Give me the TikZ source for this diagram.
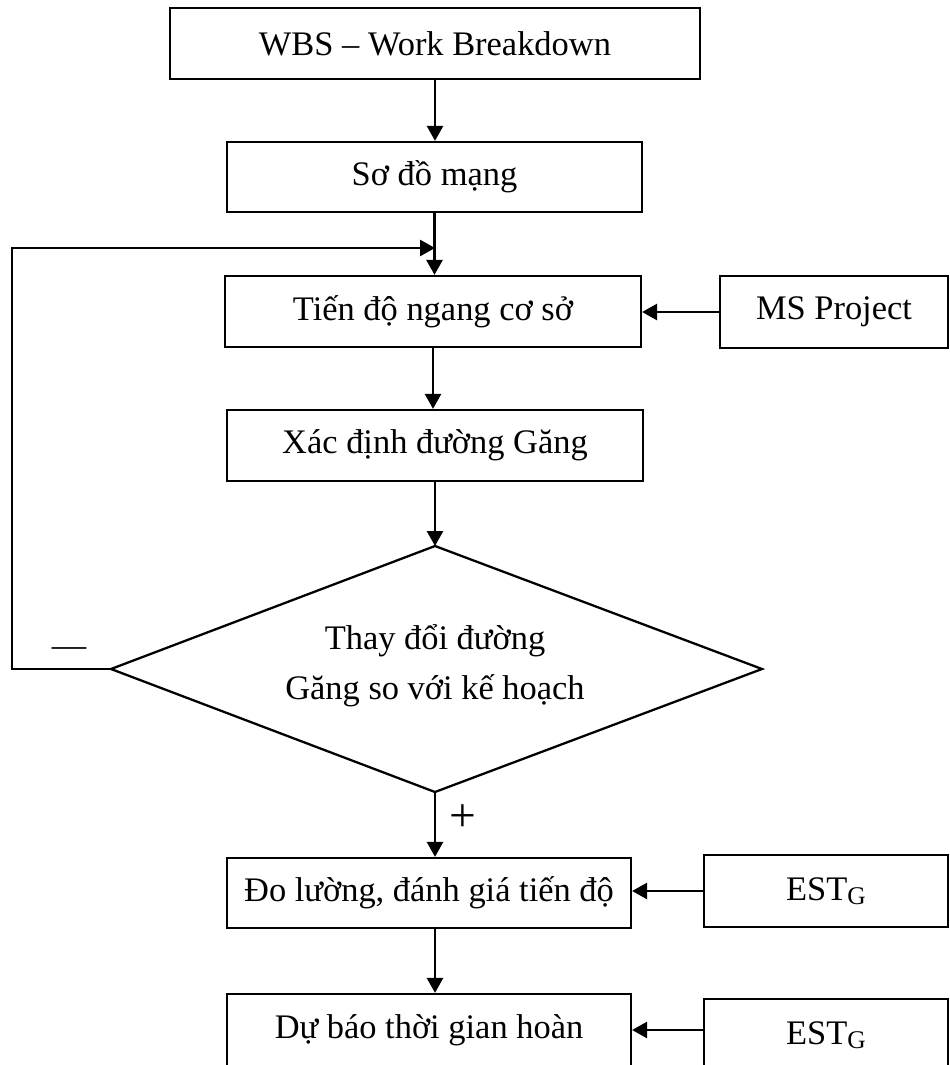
\documentclass[tikz,border=0pt]{standalone}
\usepackage{fontspec}
\setmainfont{Liberation Serif}
\usetikzlibrary{arrows.meta}

\tikzset{
  box/.style={draw, line width=1.3pt, rectangle, inner sep=0pt, align=center,
              font=\fontsize{19.6}{23}\selectfont},
  flow/.style={line width=1.5pt, -{Triangle[length=0.3cm,width=0.32cm]}},
  outline/.style={draw, line width=1.3pt, line join=miter},
  question/.style={inner sep=0pt, align=center, font=\fontsize{19.6}{28.4}\selectfont},
  sign/.style={inner sep=0pt}
}
\newcommand{\estg}{EST\raisebox{-0.12em}{\fontsize{14.5}{16}\selectfont G}}

\begin{document}
\begin{tikzpicture}[x=0.02cm, y=-0.02cm]
  \useasboundingbox (0,0) rectangle (950,1065);
  \clip (0,0) rectangle (950,1065);

  % main chain of steps
  \node[box, minimum width=10.6cm, minimum height=1.42cm]  (wbs) at (435,43.5)  {WBS -- Work Breakdown};
  \node[box, minimum width=8.3cm,  minimum height=1.4cm]   (sdm) at (434.5,177) {Sơ đồ mạng};
  \node[box, minimum width=8.32cm, minimum height=1.42cm]  (td)  at (433,311.5) {Tiến độ ngang cơ sở};
  \node[box, minimum width=4.56cm, minimum height=1.44cm]  (ms)  at (834,312)   {MS Project};
  \node[box, minimum width=8.32cm, minimum height=1.42cm]  (xd)  at (435,445.5) {Xác định đường Găng};

  % decision diamond
  \coordinate (dN) at (435,546);
  \coordinate (dS) at (435,792);
  \coordinate (dW) at (111,669);
  \coordinate (dE) at (762,669);
  \draw[outline] (dN) -- (dE) -- (dS) -- (dW) -- cycle;
  \node[question] (dia) at (435,666) {Thay đổi đường\\Găng so với kế hoạch};

  \node[box, minimum width=8.08cm, minimum height=1.4cm]   (do)  at (429,893)   {Đo lường, đánh giá tiến độ};
  \node[box, minimum width=4.88cm, minimum height=1.44cm]  (est1) at (826,891)  {\estg};
  \node[box, minimum width=8.08cm, minimum height=1.44cm]  (db)  at (429,1030)  {Dự báo thời gian hoàn};
  \node[box, minimum width=4.88cm, minimum height=1.44cm]  (est2) at (826,1035) {\estg};

  % branch signs
  \node[sign, font=\fontsize{19.6}{23}\selectfont] (minus) at (69,652) {—};
  \node[sign, font=\fontsize{27}{30}\selectfont]   (plus)  at (463,818) {+};

  % connectors
  \draw[flow] (wbs.south) -- (wbs.south |- sdm.north);
  \draw[flow] (sdm.south) -- (sdm.south |- td.north);
  \draw[flow] (ms.west) -- (ms.west -| td.east);
  \draw[flow] (td.south) -- (td.south |- xd.north);
  \draw[flow] (xd.south) -- (xd.south |- dN);
  \draw[flow] (dS) -- (dS |- do.north);
  \draw[flow] (est1.west) -- (est1.west -| do.east);
  \draw[flow] (do.south -| dS) -- (db.north -| dS);
  \draw[flow] (est2.west |- db.east) -- (db.east);

  % feedback loop back to the baseline schedule
  \coordinate (loop) at (12,248);
  \draw[flow] (dW) -| (loop) -- (loop -| wbs.south);
\end{tikzpicture}
\end{document}
